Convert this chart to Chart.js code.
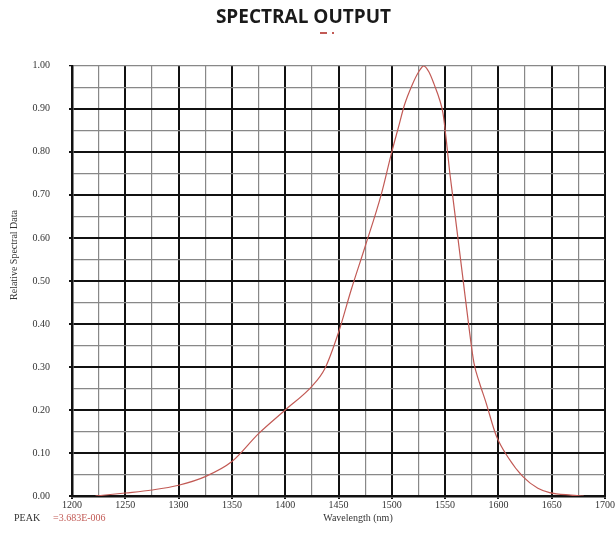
<!DOCTYPE html>
<html>
<head>
<meta charset="utf-8">
<script src="https://cdn.jsdelivr.net/npm/chart.js@4/dist/chart.umd.min.js"></script>
<style>
  html, body { margin: 0; padding: 0; background: #fff; }
  #wrap { width: 615px; height: 538px; }
</style>
</head>
<body>
<div id="wrap"><canvas id="spectrum"></canvas></div>
<script>
// wavelength (nm) and relative spectral output
const wavelengths = [1222, 1250, 1275, 1300, 1325, 1350, 1375, 1400, 1425, 1437, 1450, 1462, 1475, 1490, 1500, 1506, 1512, 1519, 1525, 1530, 1535, 1540, 1545, 1548, 1551, 1554, 1557, 1562, 1567, 1572, 1577, 1582, 1588, 1598, 1609, 1623, 1637, 1648, 1668, 1680];
const relValues   = [0.0, 0.007, 0.014, 0.025, 0.045, 0.08, 0.145, 0.20, 0.255, 0.295, 0.38, 0.48, 0.58, 0.70, 0.80, 0.855, 0.91, 0.955, 0.985, 1.0, 0.985, 0.955, 0.92, 0.89, 0.83, 0.76, 0.70, 0.60, 0.50, 0.40, 0.31, 0.265, 0.22, 0.14, 0.09, 0.045, 0.018, 0.008, 0.002, 0.0];

const xRange = [1200, 1700];
const yRange = [0, 1];
const peakLabel = "PEAK";
const peakValue = "=3.683E-006";
const xTitle = "Wavelength (nm)";
const yTitle = "Relative Spectral Data";

const serif = "'Liberation Serif', 'DejaVu Serif', serif";
const lineColor = "#c25a55";

const points = wavelengths.map((w, i) => ({ x: w, y: relValues[i] }));

const isMajorX = v => Math.round(v) % 50 === 0;
const isMajorY = v => Math.round(v * 100) % 10 === 0;

// axis titles, peak note and the small legend dash
const extraText = {
  id: "extraText",
  afterDraw(chart) {
    const c = chart.ctx;
    c.save();
    c.fillStyle = lineColor;
    c.fillRect(320, 32, 7, 2);
    c.fillRect(332, 32, 2, 2);

    c.font = "10px " + serif;
    c.textBaseline = "middle";
    c.fillStyle = "#333";
    c.textAlign = "left";
    c.fillText(peakLabel, 14, 518);
    c.fillStyle = lineColor;
    c.fillText(peakValue, 53, 518);
    c.fillStyle = "#333";
    c.textAlign = "center";
    c.fillText(xTitle, 358, 518);

    c.translate(14, 255);
    c.rotate(-Math.PI / 2);
    c.fillText(yTitle, 0, 0);
    c.restore();
  }
};

new Chart(document.getElementById("spectrum"), {
  type: "line",
  data: {
    datasets: [{
      label: "",
      data: points,
      borderColor: lineColor,
      backgroundColor: lineColor,
      borderWidth: 1.2,
      pointRadius: 0,
      cubicInterpolationMode: "monotone",
      fill: false
    }]
  },
  options: {
    responsive: true,
    maintainAspectRatio: false,
    animation: false,
    layout: { padding: { left: 0, right: 8, top: 0, bottom: 0 } },
    plugins: {
      title: {
        display: true,
        text: "SPECTRAL OUTPUT",
        color: "#1a1a1a",
        font: { family: "'Open Sans', sans-serif", size: 19, weight: "bold" },
        padding: { top: 6, bottom: 37 }
      },
      legend: { display: false },
      tooltip: { enabled: false }
    },
    scales: {
      x: {
        type: "linear",
        min: xRange[0],
        max: xRange[1],
        afterFit(s) { s.height = 42; },
        ticks: {
          stepSize: 25,
          autoSkip: false,
          maxRotation: 0,
          padding: 0,
          color: "#333",
          font: { family: serif, size: 10 },
          callback: v => isMajorX(v) ? String(v) : ""
        },
        grid: {
          color: ctx => isMajorX(ctx.tick.value) ? "#111" : "#888",
          lineWidth: ctx => isMajorX(ctx.tick.value) ? 2 : 1.2,
          tickColor: ctx => isMajorX(ctx.tick.value) ? "#111" : "rgba(0,0,0,0)",
          tickLength: 3
        },
        border: { color: "#111", width: 2.5 }
      },
      y: {
        min: yRange[0],
        max: yRange[1],
        afterFit(s) { s.width = 72; },
        ticks: {
          stepSize: 0.05,
          autoSkip: false,
          padding: 19,
          color: "#333",
          font: { family: serif, size: 10 },
          callback: v => isMajorY(v) ? v.toFixed(2) : ""
        },
        grid: {
          color: ctx => (isMajorY(ctx.tick.value) && ctx.tick.value < 0.99) ? "#111" : "#888",
          lineWidth: ctx => (isMajorY(ctx.tick.value) && ctx.tick.value < 0.99) ? 2 : 1.2,
          tickColor: ctx => isMajorY(ctx.tick.value) ? "#111" : "rgba(0,0,0,0)",
          tickLength: 3
        },
        border: { color: "#111", width: 2.5 }
      }
    }
  },
  plugins: [extraText]
});
</script>
</body>
</html>
